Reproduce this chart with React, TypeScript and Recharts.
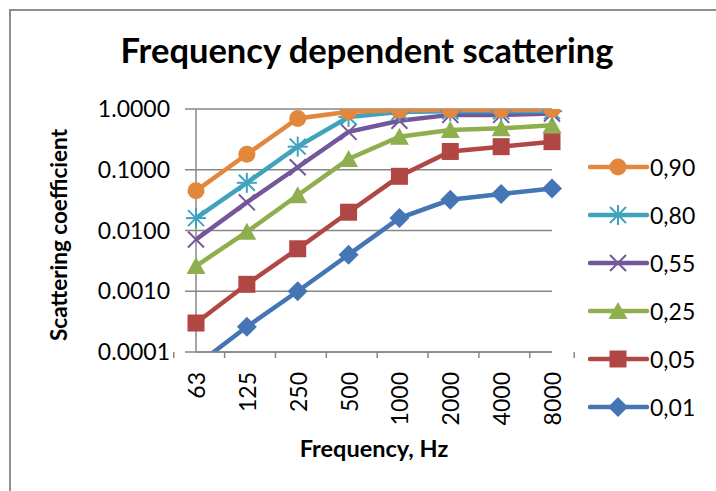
import React from 'react'
import { LineChart, Line, XAxis, YAxis, CartesianGrid, Label } from 'recharts'

const freqs = ['63', '125', '250', '500', '1000', '2000', '4000', '8000']
const s090 = [0.045, 0.18, 0.7, 0.9, 0.95, 0.97, 0.97, 0.98]
const s080 = [0.016, 0.061, 0.24, 0.74, 0.89, 0.92, 0.92, 0.92]
const s055 = [0.0071, 0.029, 0.11, 0.42, 0.64, 0.8, 0.8, 0.84]
const s025 = [0.0026, 0.0095, 0.038, 0.15, 0.35, 0.45, 0.48, 0.54]
const s005 = [0.0003, 0.0013, 0.005, 0.02, 0.078, 0.2, 0.24, 0.29]
const s001 = [0.00006, 0.00026, 0.001, 0.004, 0.016, 0.032, 0.04, 0.049]
const yTicks = [0.0001, 0.001, 0.01, 0.1, 1]

const series = [
  { key: 's090', name: '0,90', color: '#e3873c', shape: 'circle', values: s090 },
  { key: 's080', name: '0,80', color: '#41a2be', shape: 'star', values: s080 },
  { key: 's055', name: '0,55', color: '#74579b', shape: 'x', values: s055 },
  { key: 's025', name: '0,25', color: '#8fae4e', shape: 'triangle', values: s025 },
  { key: 's005', name: '0,05', color: '#b04744', shape: 'square', values: s005 },
  { key: 's001', name: '0,01', color: '#4475b4', shape: 'diamond', values: s001 },
]

const data = freqs.map((f, i) => {
  const row: Record<string, string | number> = { f }
  series.forEach(s => { row[s.key] = s.values[i] })
  return row
})

const FONT = 'Lato, "Open Sans", sans-serif'
const GRAY = '#878787'
const PLOT_W = 356

function Marker({ shape, cx, cy, color }: { shape: string; cx: number; cy: number; color: string }) {
  if (cx == null || cy == null || isNaN(cx) || isNaN(cy)) return null
  switch (shape) {
    case 'circle':
      return <circle cx={cx} cy={cy} r={8.5} fill={color} />
    case 'square':
      return <rect x={cx - 8.5} y={cy - 8.5} width={17} height={17} fill={color} />
    case 'triangle':
      return <path d={`M${cx},${cy - 9} L${cx + 9.5},${cy + 8} L${cx - 9.5},${cy + 8} Z`} fill={color} />
    case 'diamond':
      return <path d={`M${cx},${cy - 10} L${cx + 10},${cy} L${cx},${cy + 10} L${cx - 10},${cy} Z`} fill={color} />
    case 'x':
      return (
        <g stroke={color} strokeWidth={2}>
          <line x1={cx - 8} y1={cy - 8} x2={cx + 8} y2={cy + 8} />
          <line x1={cx - 8} y1={cy + 8} x2={cx + 8} y2={cy - 8} />
        </g>
      )
    case 'star':
      return (
        <g stroke={color} strokeWidth={2}>
          <line x1={cx - 8} y1={cy - 8} x2={cx + 8} y2={cy + 8} />
          <line x1={cx - 8} y1={cy + 8} x2={cx + 8} y2={cy - 8} />
          <line x1={cx} y1={cy - 10} x2={cx} y2={cy + 10} />
          <line x1={cx - 10} y1={cy} x2={cx + 10} y2={cy} />
        </g>
      )
    default:
      return null
  }
}

const XTick = (props: any) => {
  const { x, y, payload, index } = props
  const half = PLOT_W / freqs.length / 2
  const ty = y + 20
  return (
    <g>
      <line x1={x - half} y1={y} x2={x - half} y2={y + 6} stroke={GRAY} strokeWidth={1.5} />
      {index === freqs.length - 1 && (
        <line x1={x + half} y1={y} x2={x + half} y2={y + 6} stroke={GRAY} strokeWidth={1.5} />
      )}
      <text
        x={x}
        y={ty}
        transform={`rotate(-90 ${x} ${ty})`}
        textAnchor="end"
        dominantBaseline="central"
        fontFamily={FONT}
        fontSize={23}
        fill="#000"
      >
        {payload.value}
      </text>
    </g>
  )
}

export default function App() {
  return (
    <div style={{ position: 'absolute', left: 0, top: 0, width: 716, height: 491, overflow: 'hidden', background: '#fff' }}>
      <div style={{ position: 'absolute', left: 9, top: 9, width: 760, height: 540, border: '2px solid #8e8e8e' }} />
      <div
        style={{
          position: 'absolute', left: 0, width: 734, top: 30, textAlign: 'center',
          fontFamily: FONT, fontWeight: 700, fontSize: 34.5, lineHeight: '40px', color: '#000',
        }}
      >
        Frequency dependent scattering
      </div>
      <div style={{ position: 'absolute', left: 0, top: 0 }}>
        <LineChart width={716} height={491} data={data} margin={{ top: 109, right: 164, bottom: 39, left: 106 }}>
          <CartesianGrid vertical={false} stroke={GRAY} strokeWidth={1.5} />
          <XAxis
            dataKey="f"
            tickLine={false}
            tickSize={0}
            tickMargin={0}
            height={100}
            axisLine={{ stroke: GRAY, strokeWidth: 1.5 }}
            tick={<XTick />}
            interval={0}
          >
            <Label
              content={() => (
                <text x={374} y={457} textAnchor="middle" fontFamily={FONT} fontWeight={700} fontSize={23.5} fill="#000">
                  Frequency, Hz
                </text>
              )}
            />
          </XAxis>
          <YAxis
            scale="log"
            domain={[0.0001, 1]}
            ticks={yTicks}
            allowDataOverflow
            width={90}
            tickSize={11}
            tickMargin={15}
            tickFormatter={(v: number) => v.toFixed(4)}
            tick={{ fontFamily: FONT, fontSize: 23, fill: '#000' }}
            tickLine={{ stroke: GRAY, strokeWidth: 1.5 }}
            axisLine={{ stroke: GRAY, strokeWidth: 1.5 }}
          >
            <Label
              content={() => (
                <text
                  x={67}
                  y={235}
                  transform="rotate(-90 67 235)"
                  textAnchor="middle"
                  fontFamily={FONT}
                  fontWeight={700}
                  fontSize={22.5}
                  fill="#000"
                >
                  Scattering coefficient
                </text>
              )}
            />
          </YAxis>
          {series.slice().reverse().map(s => (
            <Line
              key={s.key}
              dataKey={s.key}
              name={s.name}
              stroke={s.color}
              strokeWidth={4.5}
              isAnimationActive={false}
              dot={(p: any) => <Marker key={`${s.key}-${p.index}`} shape={s.shape} cx={p.cx} cy={p.cy} color={s.color} />}
              activeDot={false}
            />
          ))}
        </LineChart>
      </div>
      {series.map((s, i) => (
        <div
          key={s.key}
          style={{ position: 'absolute', left: 588, top: 167 + i * 48 - 15, height: 30, display: 'flex', alignItems: 'center' }}
        >
          <svg width={61} height={30}>
            <line x1={2} y1={15} x2={59} y2={15} stroke={s.color} strokeWidth={4.5} strokeLinecap="round" />
            <Marker shape={s.shape} cx={30} cy={15} color={s.color} />
          </svg>
          <span style={{ fontFamily: FONT, fontSize: 23, color: '#000', marginLeft: 1 }}>{s.name}</span>
        </div>
      ))}
    </div>
  )
}
